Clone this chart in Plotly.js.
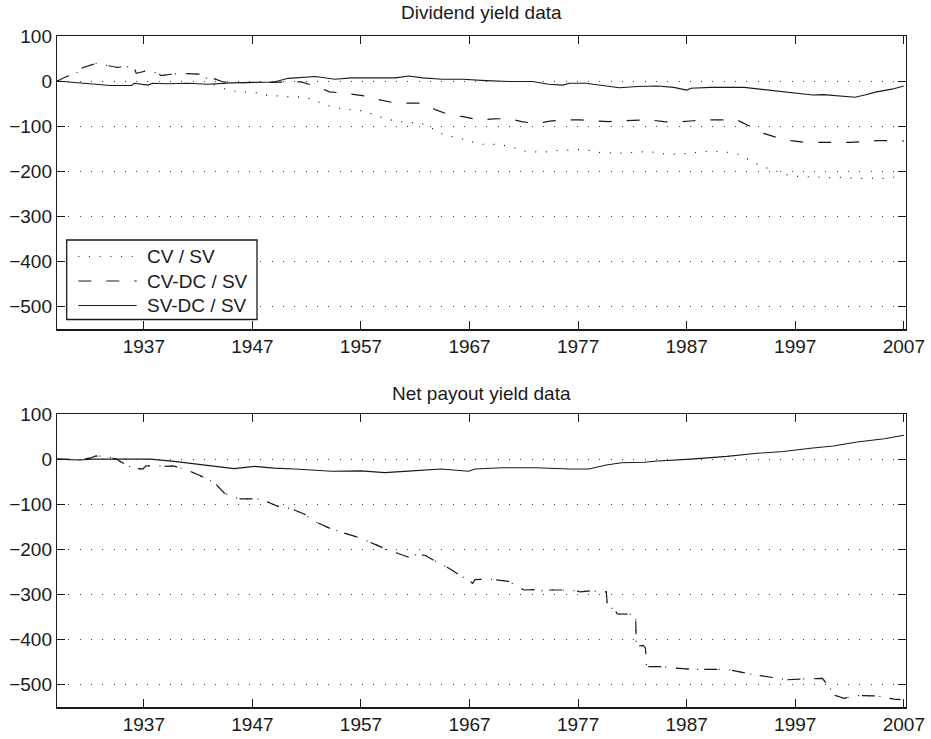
<!DOCTYPE html>
<html>
<head>
<meta charset="utf-8">
<script src="https://cdn.plot.ly/plotly-3.0.1.min.js"></script>
<style>html,body{margin:0;padding:0;background:#fff;}#chart{width:931px;height:739px;}</style>
</head>
<body>
<div id="chart"></div>
<script>
// ---------- Top panel: Dividend yield data ----------
const divCvYears = [1929, 1929.9, 1930.8, 1931.4, 1932.6, 1933.5, 1934.6, 1935.2, 1936.1, 1936.3, 1937.3, 1938.2, 1938.6, 1939.5, 1940.6, 1942.3, 1943.5, 1944.5, 1945.6, 1947.5, 1948.5, 1949.6, 1950.5, 1951.5, 1952.5, 1953.5, 1954.5, 1955.5, 1956.5, 1957.5, 1958.4, 1959.4, 1960.4, 1961.4, 1962.4, 1963.3, 1964.2, 1965.2, 1966.2, 1967.1, 1968.1, 1969.1, 1970.1, 1971.1, 1972.0, 1973.0, 1974.0, 1975.0, 1976.1, 1977.1, 1978.1, 1979.1, 1980.1, 1981.1, 1982.6, 1983.7, 1985.2, 1986.2, 1987.1, 1988.2, 1989.2, 1990.3, 1991.4, 1992.3, 1993.2, 1994.1, 1994.9, 1995.9, 1997.0, 1997.9, 1998.8, 1999.9, 2000.9, 2001.9, 2002.9, 2003.9, 2005.0, 2006.0, 2007.0];
const divCvValues = [0, 10, 18, 30, 39, 35, 30, 33, 30, 17, 23, 18, 12, 15, 17, 15, -8, -18, -24, -26, -33, -33, -35, -35, -40, -51, -58, -63, -64, -68, -77, -84, -90, -92, -92, -101, -115, -122, -127, -134, -140, -140, -142, -148, -155, -157, -157, -154, -153, -152, -154, -159, -159, -160, -157, -157, -162, -162, -160, -157, -155, -157, -159, -168, -181, -191, -196, -206, -211, -212, -212, -214, -213, -215, -216, -215, -216, -213, -214];

const divCvdcYears = [1929, 1929.9, 1930.8, 1931.4, 1932.6, 1933.5, 1934.6, 1935.2, 1936.1, 1936.3, 1937.3, 1938.2, 1938.6, 1939.5, 1940.6, 1942.3, 1943.4, 1944.2, 1944.8, 1946.0, 1948.0, 1950.3, 1951.5, 1952.9, 1954.1, 1955.5, 1956.7, 1957.3, 1958.6, 1960.0, 1961.3, 1962.7, 1963.9, 1965.2, 1966.4, 1967.9, 1969.2, 1970.6, 1971.8, 1973.1, 1974.4, 1975.8, 1977.2, 1978.6, 1979.8, 1980.9, 1983.6, 1984.9, 1986.2, 1987.6, 1988.9, 1990.3, 1991.6, 1992.9, 1994.1, 1995.3, 1996.6, 1997.9, 1999.2, 2000.7, 2002.0, 2003.4, 2004.5, 2005.9, 2007.0];
const divCvdcValues = [0, 10, 18, 30, 39, 35, 30, 33, 30, 17, 23, 18, 12, 15, 17, 15, 6, -1, -4, -4, -3, -2, -2, -12, -24, -27, -31, -33, -41, -48, -49, -49, -64, -75, -79, -86, -84, -83, -90, -94, -89, -86, -86, -89, -90, -88, -86, -90, -91, -88, -86, -86, -86, -101, -116, -125, -132, -136, -136, -135, -136, -134, -132, -132, -133];

const divSvdcYears = [1929, 1931.4, 1933.9, 1935.9, 1936.1, 1937.4, 1937.8, 1939.2, 1941.0, 1942.9, 1945.0, 1947.2, 1949.0, 1950.3, 1951.5, 1952.8, 1954.6, 1956.1, 1957.7, 1960.2, 1961.4, 1962.7, 1964.5, 1966.4, 1968.5, 1970.6, 1972.8, 1974.3, 1975.6, 1976.2, 1977.7, 1979.3, 1980.8, 1982.5, 1984.3, 1985.8, 1987.0, 1987.4, 1989.2, 1992.3, 1993.8, 1994.9, 1996.3, 1998.6, 1999.6, 2001.5, 2002.5, 2003.4, 2004.5, 2005.9, 2007.0];
const divSvdcValues = [0, -5, -10, -10, -5, -9, -5, -6, -5, -7, -4, -3, -2, 6, 8, 10, 4, 7, 7, 7, 11, 7, 4, 4, 1, -1, -1, -7, -9, -5, -5, -11, -15, -12, -11, -14, -20, -16, -14, -14, -18, -21, -24, -31, -30, -33, -36, -31, -24, -18, -11];

// ---------- Bottom panel: Net payout yield data ----------
const netCvYears = [1929, 1931.0, 1932.0, 1932.6, 1933.5, 1934.5, 1934.8, 1936.0, 1936.9, 1937.2, 1938.5, 1939.1, 1939.7, 1941.0, 1942.2, 1943.5, 1944.4, 1945.3, 1945.9, 1946.9, 1947.5, 1948.1, 1949.3, 1950.6, 1951.8, 1952.7, 1954.1, 1955.2, 1956.7, 1958.4, 1959.8, 1960.3, 1961.7, 1962.0, 1962.9, 1964.2, 1965.1, 1966.3, 1967.3, 1967.5, 1968.4, 1969.3, 1970.6, 1971.4, 1972.0, 1972.9, 1973.4, 1973.9, 1975.4, 1976.3, 1977.2, 1978.1, 1979.1, 1979.6, 1979.7, 1980.3, 1980.6, 1982.2, 1982.3, 1982.35, 1983.0, 1983.2, 1983.3, 1984.5, 1986.0, 1987.6, 1989.1, 1990.7, 1992.8, 1994.4, 1996.2, 1997.8, 1999.0, 1999.5, 2000.1, 2000.6, 2001.5, 2002.7, 2004.6, 2006.1, 2006.7];
const netCvValues = [0, -1, 2, 7, 6, 0, -5, -20, -22, -15, -15, -16, -15, -24, -37, -52, -75, -85, -88, -87, -88, -92, -104, -110, -122, -138, -153, -162, -173, -190, -205, -208, -220, -212, -213, -231, -242, -260, -275, -267, -266, -267, -271, -282, -290, -289, -294, -290, -289, -290, -294, -292, -294, -294, -330, -331, -343, -344, -344, -415, -413, -419, -460, -460, -463, -466, -466, -466, -476, -482, -489, -487, -486, -486, -504, -523, -530, -524, -525, -532, -533];

const netCvdcYears = [1929, 1931.0, 1932.0, 1932.6, 1933.5, 1934.5, 1934.8, 1936.0, 1936.9, 1937.2, 1938.5, 1939.1, 1939.7, 1941.0, 1942.2, 1943.5, 1944.4, 1945.3, 1945.9, 1946.9, 1947.5, 1948.1, 1949.3, 1950.6, 1951.8, 1952.7, 1954.1, 1955.2, 1956.7, 1958.4, 1959.8, 1960.3, 1961.7, 1962.0, 1962.9, 1964.2, 1965.1, 1966.3, 1967.3, 1967.5, 1968.4, 1969.3, 1970.6, 1971.4, 1972.0, 1972.9, 1973.4, 1973.9, 1975.4, 1976.3, 1977.2, 1978.1, 1979.1, 1979.6, 1979.7, 1980.3, 1980.6, 1982.2, 1982.3, 1982.35, 1983.0, 1983.2, 1983.3, 1984.5, 1986.0, 1987.6, 1989.1, 1990.7, 1992.8, 1994.4, 1996.2, 1997.8, 1999.0, 1999.5, 2000.1, 2000.6, 2001.5, 2002.7, 2004.6, 2006.1, 2006.7];
const netCvdcValues = [0, -1, 2, 7, 6, 0, -5, -20, -22, -15, -15, -16, -15, -24, -37, -52, -75, -85, -88, -87, -88, -92, -104, -110, -122, -138, -153, -162, -173, -190, -205, -208, -220, -212, -213, -231, -242, -260, -275, -267, -266, -267, -271, -282, -290, -289, -294, -290, -289, -290, -294, -292, -294, -294, -330, -331, -343, -344, -344, -415, -413, -419, -460, -460, -463, -466, -466, -466, -476, -482, -489, -487, -486, -486, -504, -523, -530, -524, -525, -532, -533];

const netSvdcYears = [1929, 1931.1, 1932.3, 1934.5, 1937.6, 1939.8, 1941.6, 1943.5, 1945.3, 1947.2, 1949.0, 1950.9, 1953.3, 1954.3, 1957.0, 1959.2, 1961.7, 1964.4, 1966.9, 1967.5, 1970.0, 1973.1, 1976.2, 1978.0, 1979.6, 1981.0, 1983.1, 1984.3, 1987.4, 1990.7, 1993.5, 1995.9, 1998.4, 2000.5, 2002.7, 2005.2, 2007.0];
const netSvdcValues = [0, -2, 0, 0, 0, -5, -10, -15, -21, -16, -20, -22, -26, -27, -26, -30, -26, -22, -27, -22, -19, -19, -22, -22, -13, -8, -7, -4, 0, 6, 13, 17, 24, 29, 38, 45, 53];

// ---------- Labels ----------
const seriesNames = ['CV / SV', 'CV-DC / SV', 'SV-DC / SV'];
const panelTitles = ['Dividend yield data', 'Net payout yield data'];
const xTickVals = [1937, 1947, 1957, 1967, 1977, 1987, 1997, 2007];
const yTickVals = [-500, -400, -300, -200, -100, 0, 100];
const yTickText = ['\u2212500', '\u2212400', '\u2212300', '\u2212200', '\u2212100', '0', '100'];

const INK = '#1a1a1a';
const FONT = 'Liberation Sans, Arial, Helvetica, sans-serif';
const dashStyles = ['1px,9.7px', '13px,15px', 'solid'];

function tr(x, y, k, xa, ya) {
  return {
    x: x, y: y, name: seriesNames[k], type: 'scatter', mode: 'lines',
    xaxis: xa, yaxis: ya, showlegend: false,
    line: {color: INK, width: k === 2 ? 1.1 : 1.2, dash: dashStyles[k]}
  };
}

const data = [
  tr(divCvYears, divCvValues, 0, 'x', 'y'),
  tr(divCvdcYears, divCvdcValues, 1, 'x', 'y'),
  tr(divSvdcYears, divSvdcValues, 2, 'x', 'y'),
  tr(netCvYears, netCvValues, 0, 'x2', 'y2'),
  tr(netCvdcYears, netCvdcValues, 1, 'x2', 'y2'),
  tr(netSvdcYears, netSvdcValues, 2, 'x2', 'y2')
];

const W = 931, H = 739, ML = 57, MR = 25;
const PW = W - ML - MR;
const px = v => (v - ML) / PW;   // pixel -> paper x
const py = v => 1 - v / H;       // pixel -> paper y

function xax(anchor) {
  return {
    anchor: anchor, range: [1929, 2007.2], tickmode: 'array', tickvals: xTickVals,
    ticks: 'inside', ticklen: 8, tickwidth: 1, tickcolor: INK,
    showline: true, linecolor: INK, linewidth: 1.2, mirror: 'ticks',
    showgrid: false, zeroline: false, fixedrange: true,
    tickfont: {family: FONT, size: 19, color: INK}
  };
}
function yax(anchor, dom) {
  return {
    anchor: anchor, domain: dom, range: [-550, 100], tickmode: 'array',
    tickvals: yTickVals, ticktext: yTickText,
    ticks: 'inside', ticklen: 8, tickwidth: 1, tickcolor: INK,
    showline: true, linecolor: INK, linewidth: 1.2, mirror: 'ticks',
    showgrid: true, gridcolor: '#444', gridwidth: 1, griddash: '1px,10.3px',
    zeroline: false, fixedrange: true,
    tickfont: {family: FONT, size: 19, color: INK}
  };
}

// Legend box (drawn in the top panel, lower-left corner)
const legendBox = {x0: 66.7, x1: 257, y0: 240, y1: 319.5};
const legendRows = [256.5, 281, 305.5];
const legendLineX = [78.3, 136.7];
const legendTextX = 145;

const shapes = [{
  type: 'rect', xref: 'paper', yref: 'paper',
  x0: px(legendBox.x0), x1: px(legendBox.x1), y0: py(legendBox.y1), y1: py(legendBox.y0),
  fillcolor: '#fff', line: {color: INK, width: 1.3}, layer: 'above'
}];
const annotations = [
  {text: panelTitles[0], xref: 'paper', yref: 'paper', x: 0.5, y: py(12.5),
   xanchor: 'center', yanchor: 'middle', showarrow: false,
   font: {family: FONT, size: 19, color: INK}},
  {text: panelTitles[1], xref: 'paper', yref: 'paper', x: 0.5, y: py(393),
   xanchor: 'center', yanchor: 'middle', showarrow: false,
   font: {family: FONT, size: 19, color: INK}}
];
seriesNames.forEach((name, k) => {
  shapes.push({
    type: 'line', xref: 'paper', yref: 'paper', layer: 'above',
    x0: px(legendLineX[0]), x1: px(legendLineX[1]), y0: py(legendRows[k]), y1: py(legendRows[k]),
    line: {color: INK, width: k === 2 ? 1.1 : 1.2, dash: dashStyles[k]}
  });
  annotations.push({
    text: name, xref: 'paper', yref: 'paper', x: px(legendTextX), y: py(legendRows[k]),
    xanchor: 'left', yanchor: 'middle', showarrow: false,
    font: {family: FONT, size: 19, color: INK}
  });
});

const layout = {
  width: W, height: H,
  margin: {l: ML, r: MR, t: 0, b: 0, pad: 0},
  paper_bgcolor: '#fff', plot_bgcolor: '#fff',
  font: {family: FONT, size: 19, color: INK},
  xaxis: xax('y'),
  yaxis: yax('x', [py(329.3), py(35.9)]),
  xaxis2: xax('y2'),
  yaxis2: yax('x2', [py(707.3), py(414)]),
  showlegend: false,
  shapes: shapes,
  annotations: annotations
};

Plotly.newPlot('chart', data, layout, {displayModeBar: false, staticPlot: true});
</script>
</body>
</html>
